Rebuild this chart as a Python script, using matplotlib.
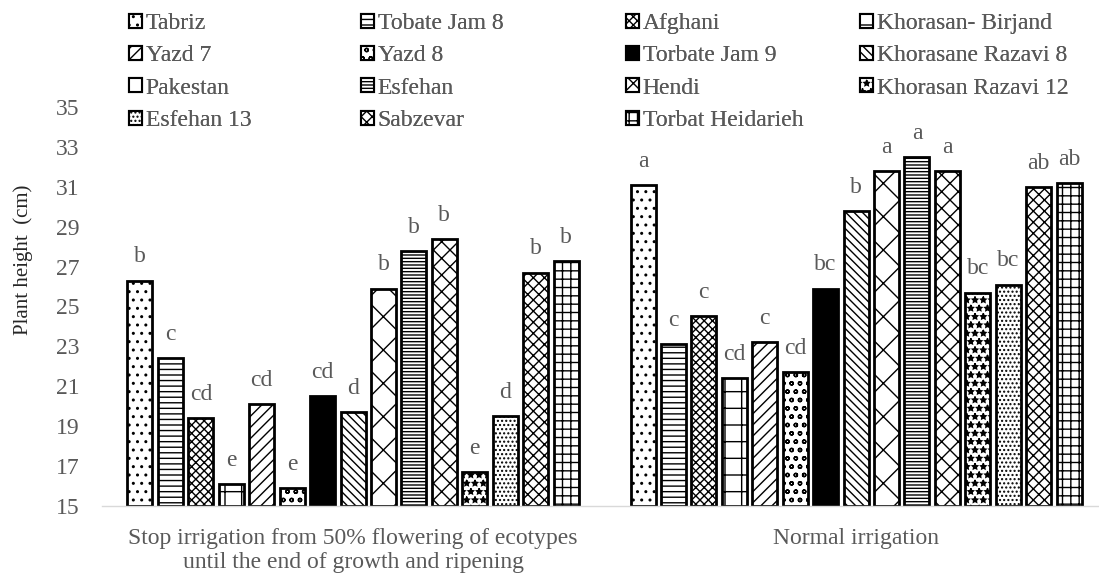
"""Plant height of 15 ecotypes under two irrigation regimes."""

import matplotlib

matplotlib.use("Agg")
import matplotlib.pyplot as plt
from matplotlib.patches import Patch
import numpy as np

ECOTYPES = [
    "Tabriz", "Tobate Jam 8", "Afghani", "Khorasan- Birjand",
    "Yazd 7", "Yazd 8", "Torbate Jam 9", "Khorasane Razavi 8",
    "Pakestan", "Esfehan", "Hendi", "Khorasan Razavi 12",
    "Esfehan 13", "Sabzevar", "Torbat Heidarieh",
]
TREATMENTS = [
    "Stop irrigation from 50% flowering of ecotypes\nuntil the end of growth and ripening",
    "Normal irrigation",
]
STRESS_HEIGHT = [26.3, 22.4, 19.4, 16.1, 20.1, 15.9, 20.5, 19.7,
                 25.9, 27.8, 28.4, 16.7, 19.5, 26.7, 27.3]
NORMAL_HEIGHT = [31.1, 23.1, 24.5, 21.4, 23.2, 21.7, 25.9, 29.8,
                 31.8, 32.5, 31.8, 25.7, 26.1, 31.0, 31.2]
STRESS_LETTERS = ["b", "c", "cd", "e", "cd", "e", "cd", "d",
                  "b", "b", "b", "e", "d", "b", "b"]
NORMAL_LETTERS = ["a", "c", "c", "cd", "c", "cd", "bc", "b",
                  "a", "a", "a", "bc", "bc", "ab", "ab"]

HATCHES = ["..", "---", "xxxx", "+", "///", "oo", "", "\\\\\\\\",
           "x", "-----", "xx", "**", "....", "xxx", "++"]
FILLS = ["white"] * 6 + ["black"] + ["white"] * 8

GRAY = "#595959"
SERIF = ["Liberation Serif", "DejaVu Serif"]
FS = 17
W, H = 1099, 576


def main() -> None:
    plt.rcParams.update(
        {
            "font.family": SERIF,
            "hatch.linewidth": 1.0,
            "hatch.color": "black",
        }
    )
    fig = plt.figure(figsize=(W / 100, H / 100), dpi=100)
    ax = fig.add_axes([102 / W, 70 / H, 997 / W, 399 / H])

    heights = np.array([STRESS_HEIGHT, NORMAL_HEIGHT])
    letters = [STRESS_LETTERS, NORMAL_LETTERS]
    n = len(ECOTYPES)
    pitch = 0.0605
    width = 0.0497
    base = 15
    x = np.arange(len(TREATMENTS))

    for i, name in enumerate(ECOTYPES):
        pos = x + (i - (n - 1) / 2) * pitch
        bars = ax.bar(
            pos, heights[:, i] - base, width, bottom=base,
            color=FILLS[i], edgecolor="black", linewidth=2.0,
            hatch=HATCHES[i], label=name,
        )
        for g, rect in enumerate(bars):
            ax.annotate(
                letters[g][i],
                (rect.get_x() + rect.get_width() / 2, heights[g, i]),
                xytext=(0, 17), textcoords="offset points",
                ha="center", va="center", fontsize=FS, color=GRAY,
            )

    ax.set_ylim(15, 35)
    ax.set_yticks(np.arange(15, 36, 2))
    ax.set_xlim(-0.499, 1.483)
    ax.set_xticks(x)
    ax.set_xticklabels(TREATMENTS, fontsize=FS, color=GRAY, linespacing=1.2)
    ax.tick_params(axis="both", length=0, labelsize=FS, labelcolor=GRAY)
    ax.tick_params(axis="x", pad=16)
    ax.tick_params(axis="y", pad=16)
    for side in ("top", "right", "left"):
        ax.spines[side].set_visible(False)
    ax.spines["bottom"].set_color("#d9d9d9")
    ax.spines["bottom"].set_linewidth(1.0)
    ax.set_ylabel("Plant height  (cm)", fontsize=15, color="#262626")
    ax.yaxis.set_label_coords((33 - 102) / 997, (506 - 260) / 399)

    # Excel-style legend: four columns, filled row by row
    col_left = [129, 361, 626, 860]
    for c, left in enumerate(col_left):
        idx = list(range(c, n, 4))
        patches = [
            Patch(facecolor=FILLS[i], edgecolor="black", linewidth=1.5,
                  hatch=HATCHES[i], label=ECOTYPES[i])
            for i in idx
        ]
        leg = fig.legend(
            handles=patches, loc="upper left",
            bbox_to_anchor=(left / W, 1 - 13 / H),
            frameon=False, fontsize=FS, labelcolor=GRAY,
            handlelength=0.55, handleheight=0.55, handletextpad=0.15,
            labelspacing=0.48, borderpad=0, borderaxespad=0,
        )
        fig.add_artist(leg)

    fig.savefig("out.png", dpi=100)
    plt.close(fig)


if __name__ == "__main__":
    main()
